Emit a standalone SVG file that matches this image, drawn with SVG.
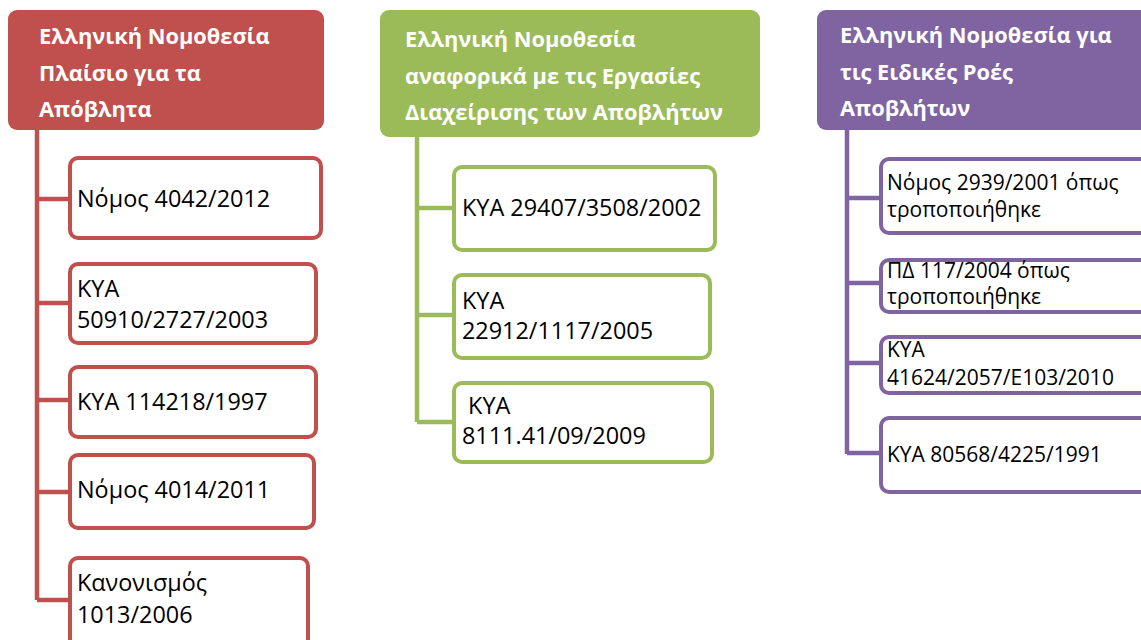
<svg xmlns="http://www.w3.org/2000/svg" width="1141" height="640" viewBox="0 0 1141 640">
<style>
.hdr{stroke:none}
.ht{font-family:"Open Sans","Liberation Sans",sans-serif;font-weight:bold;font-size:21.8px;fill:#fff}
.bt{font-family:"Open Sans","Liberation Sans",sans-serif;font-size:23.4px;fill:#000}
.st{font-family:"Open Sans","Liberation Sans",sans-serif;font-size:21px;fill:#000}
.box{fill:#fff;stroke-width:4}
.r{stroke:#C0504D}.g{stroke:#9BBB59}.p{stroke:#8064A2}
.con{fill:none;stroke-width:4.5}
</style>
<rect width="1141" height="640" fill="#fff"/>
<g id="connectors">
<path class="con r" d="M37 130V600M37 199H70M37 303H70M37 400H70M37 492H70M37 600H70"/>
<path class="con g" d="M417 137V422M417 208H454M417 315H454M417 422H454"/>
<path class="con p" d="M847 130V454M847 198H881M847 283H881M847 363H881M847 453H881"/>
</g>
<g id="red-header"><rect class="hdr" x="8" y="10" width="316" height="120" rx="9" fill="#C0504D"/>
<text class="ht"><tspan x="39" y="44">Ελληνική Νομοθεσία</tspan><tspan x="39" y="81">Πλαίσιο για τα</tspan><tspan x="39" y="117">Απόβλητα</tspan></text></g>
<g id="r1"><rect class="box r" x="70" y="158" width="251" height="80" rx="8"/><text class="bt" x="77" y="207">Νόμος 4042/2012</text></g>
<g id="r2"><rect class="box r" x="70" y="264" width="246" height="79" rx="8"/><text class="bt"><tspan x="77" y="297">ΚΥΑ</tspan><tspan x="77" y="328">50910/2727/2003</tspan></text></g>
<g id="r3"><rect class="box r" x="70" y="367" width="246" height="70" rx="8"/><text class="bt" x="77" y="410">ΚΥΑ 114218/1997</text></g>
<g id="r4"><rect class="box r" x="70" y="455" width="244" height="73" rx="8"/><text class="bt" x="77" y="498">Νόμος 4014/2011</text></g>
<g id="r5"><rect class="box r" x="70" y="558" width="238" height="100" rx="8"/><text class="bt"><tspan x="77" y="591">Κανονισμός</tspan><tspan x="77" y="623">1013/2006</tspan></text></g>
<g id="green-header"><rect class="hdr" x="380" y="10" width="380" height="127" rx="9" fill="#9BBB59"/>
<text class="ht"><tspan x="405" y="47">Ελληνική Νομοθεσία</tspan><tspan x="405" y="84">αναφορικά με τις Εργασίες</tspan><tspan x="405" y="120">Διαχείρισης των Αποβλήτων</tspan></text></g>
<g id="g1"><rect class="box g" x="454" y="167" width="261" height="83" rx="8"/><text class="bt" x="462" y="216">ΚΥΑ 29407/3508/2002</text></g>
<g id="g2"><rect class="box g" x="454" y="275" width="256" height="83" rx="8"/><text class="bt"><tspan x="462" y="309">ΚΥΑ</tspan><tspan x="462" y="339">22912/1117/2005</tspan></text></g>
<g id="g3"><rect class="box g" x="454" y="383" width="258" height="79" rx="8"/><text class="bt" xml:space="preserve"><tspan x="462" y="414"> ΚΥΑ</tspan><tspan x="462" y="444">8111.41/09/2009</tspan></text></g>
<g id="purple-header"><rect class="hdr" x="817" y="10" width="340" height="120" rx="9" fill="#8064A2"/>
<text class="ht"><tspan x="840" y="43">Ελληνική Νομοθεσία για</tspan><tspan x="840" y="80">τις Ειδικές Ροές</tspan><tspan x="840" y="116">Αποβλήτων</tspan></text></g>
<g id="p1"><rect class="box p" x="881" y="159" width="280" height="74" rx="8"/><text class="st"><tspan x="887" y="190">Νόμος 2939/2001 όπως</tspan><tspan x="887" y="217">τροποποιήθηκε</tspan></text></g>
<g id="p2"><rect class="box p" x="881" y="260" width="280" height="52" rx="8"/><text class="st"><tspan x="887" y="278">ΠΔ 117/2004 όπως</tspan><tspan x="887" y="304">τροποποιήθηκε</tspan></text></g>
<g id="p3"><rect class="box p" x="881" y="337" width="280" height="56" rx="8"/><text class="st"><tspan x="887" y="357">ΚΥΑ</tspan><tspan x="887" y="385">41624/2057/Ε103/2010</tspan></text></g>
<g id="p4"><rect class="box p" x="881" y="418" width="280" height="74" rx="8"/><text class="st" x="887" y="462">ΚΥΑ 80568/4225/1991</text></g>
</svg>
